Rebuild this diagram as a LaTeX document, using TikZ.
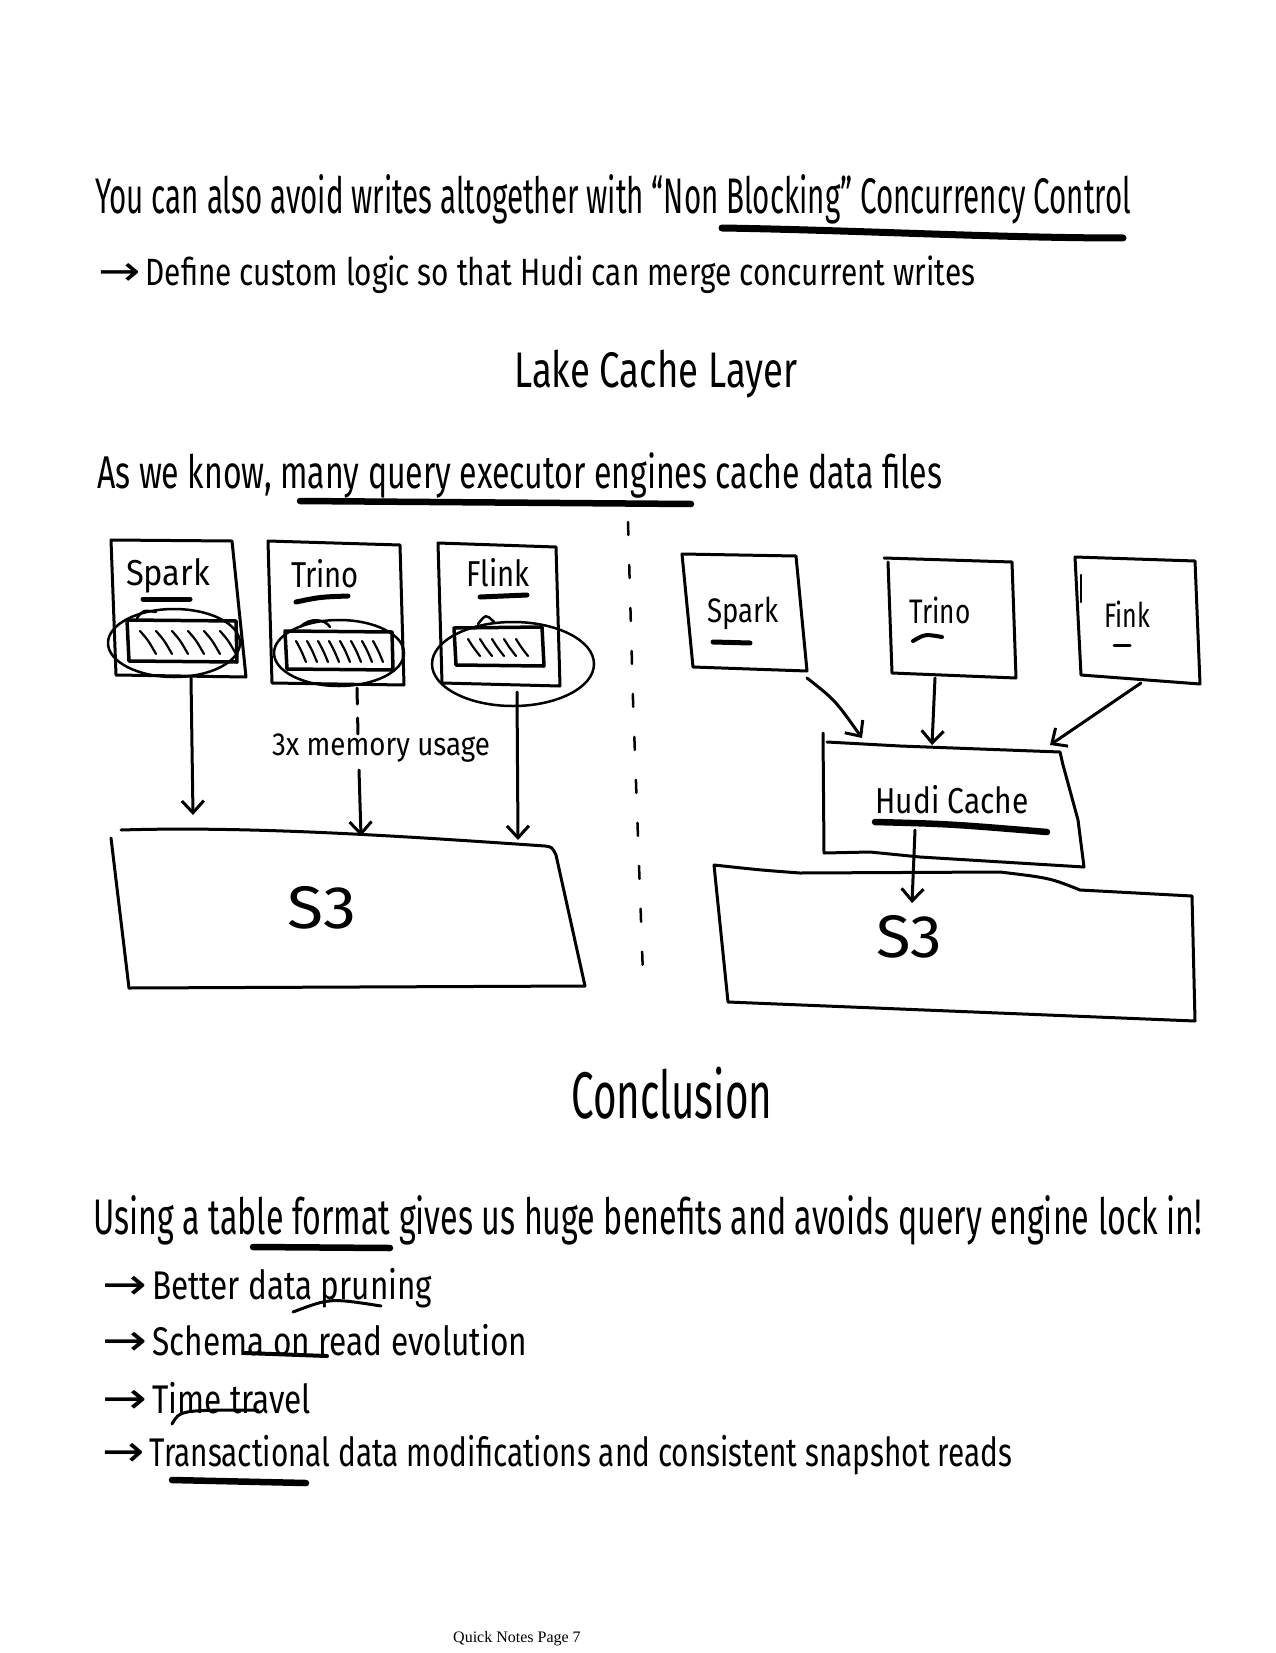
\documentclass[tikz,border=0pt]{standalone}
\usepackage{fontspec}
\usepackage{graphicx}
\setmainfont{Fira Sans}
\newfontfamily\arrfont{DejaVu Sans}
\newfontfamily\tmsfont{Liberation Serif}
\usetikzlibrary{arrows.meta}
\newcommand\hw[2]{\resizebox{#1pt}{\height}{#2}}
\newcommand\ar{{\arrfont\scalebox{1.7}[1.1]{→}\,}}
\begin{document}
\begin{tikzpicture}[x=1pt,y=-1pt,line cap=round,line join=round,
  ink/.style={draw=black,line width=3pt},
  fat/.style={draw=black,line width=6.5pt},
  hand/.style={inner sep=0pt,anchor=base west,text=black},
  word/.style={inner sep=0pt,anchor=center,text=black},
  pen/.style={ink,-{Straight Barb[length=12pt,width=22pt]}}]
\fill[white] (0,0) rectangle (1275,1653);
\useasboundingbox (0,0) rectangle (1275,1653);

% ---------- top text ----------
\node[hand,font=\fontsize{50}{54}\selectfont] (t1) at (95,214) {\hw{1036}{You can also avoid writes altogether with “Non Blocking” Concurrency Control}};
\draw[fat,line width=7pt] (722,228) .. controls (850,230) and (1000,238) .. (1123,238);
\node[hand,font=\fontsize{38}{42}\selectfont] (t2) at (98,285) {\hw{877}{\ar Define custom logic so that Hudi can merge concurrent writes}};
\node[hand,font=\fontsize{50}{54}\selectfont] (h1) at (514,387) {\hw{283}{Lake Cache Layer}};
\node[hand,font=\fontsize{46}{50}\selectfont] (t3) at (97,488) {\hw{845}{As we know, many query executor engines cache data files}};
\draw[fat] (300,501) -- (691,504);

% ---------- left diagram ----------
% Spark
\draw[ink] (111,540) -- (232,541) -- (246,677) -- (116,675) -- cycle;
\node[word,font=\fontsize{36}{40}\selectfont] (lsp) at (168,576) {\hw{84}{Spark}};
\draw[fat,line width=5pt] (143,599) -- (190,599);
\draw[ink,line width=3.5pt] (127,620) -- (236,621) -- (237,662) -- (129,661) -- cycle;
\foreach \i in {0,...,5}
  \draw[ink,line width=2.2pt] (140+16*\i,631) .. controls (148+16*\i,640) .. (156+16*\i,654);
\draw[ink,line width=2.5pt] (174,643) ellipse [x radius=66pt, y radius=34pt];
\draw[ink,line width=2.5pt] (137,618) .. controls (143,610) .. (156,612);
% Trino
\draw[ink] (268,541) -- (400,545) -- (404,685) -- (272,683) -- cycle;
\node[word,font=\fontsize{36}{40}\selectfont] (ltr) at (325,574) {\hw{68}{Trino}};
\draw[fat,line width=5pt] (296,602) .. controls (320,597) .. (348,596);
\draw[ink,line width=3.5pt] (285,631) -- (392,632) -- (393,670) -- (287,669) -- cycle;
\foreach \i in {0,...,7}
  \draw[ink,line width=2.2pt] (296+11*\i,641) .. controls (301+11*\i,650) .. (306+11*\i,662);
\draw[ink,line width=2.5pt] (339,653) ellipse [x radius=65pt, y radius=33pt];
\draw[ink,line width=2.5pt] (300,627) .. controls (310,617) and (325,619) .. (330,627);
% Flink
\draw[ink] (438,543) -- (556,547) -- (560,686) -- (442,683) -- cycle;
\node[word,font=\fontsize{36}{40}\selectfont] (lfl) at (498,573) {\hw{63}{Flink}};
\draw[fat,line width=5pt] (480,597) -- (527,595);
\draw[ink,line width=3.5pt] (454,628) -- (542,627) -- (544,666) -- (456,665) -- cycle;
\foreach \i in {0,...,4}
  \draw[ink,line width=2.2pt] (468+12*\i,639) .. controls (473+12*\i,647) .. (480+12*\i,656);
\draw[ink,line width=2.5pt] (513,664) ellipse [x radius=81pt, y radius=42pt];
\draw[ink,line width=2.5pt] (478,624) .. controls (486,614) .. (494,622);
% arrows to S3
\coordinate (a1s) at (191,678); \coordinate (a1e) at (193,815);
\draw[pen] (a1s) -- (a1e);
\coordinate (a2s) at (357,688); \coordinate (a2m) at (358,735);
\draw[ink,dash pattern=on 16pt off 14pt] (a2s) -- (a2m);
\node[word,font=\fontsize{32}{36}\selectfont] (mem) at (381,748) {\hw{218}{3x memory usage}};
\coordinate (a2t) at (359,770); \coordinate (a2e) at (361,836);
\draw[pen] (a2t) -- (a2e);
\coordinate (a3s) at (517,692); \coordinate (a3e) at (518,840);
\draw[pen] (a3s) -- (a3e);
% S3 left
\draw[ink] (121,830) .. controls (250,826) and (400,836) .. (545,846) .. controls (552,847) .. (556,855) -- (585,986) -- (129,988);
\draw[ink] (111,838) -- (129,988);
\node[word,font=\fontsize{60}{64}\selectfont] (s3l) at (322,908) {\hw{69}{S3}};

% ---------- divider ----------
\draw[ink,line width=2.5pt,dash pattern=on 13pt off 30pt] (628,522) -- (633,700) -- (643,975);

% ---------- right diagram ----------
\draw[ink] (682,554) -- (796,556) -- (807,671) -- (693,667) -- cycle;
\node[word,font=\fontsize{34}{38}\selectfont] (rsp) at (743,613) {\hw{71}{Spark}};
\draw[fat,line width=5pt] (713,642) -- (750,643);
\draw[ink] (884,558) -- (1012,562) -- (1016,678) -- (892,673) -- (888,562);
\node[word,font=\fontsize{34}{38}\selectfont] (rtr) at (940,610) {\hw{61}{Trino}};
\draw[fat,line width=4pt] (913,641) .. controls (925,634) .. (942,637);
\draw[ink] (1075,557) -- (1195,561) -- (1200,684) -- (1081,675) -- cycle;
\draw[ink,line width=2.5pt] (1081,575) -- (1081,602);
\node[word,font=\fontsize{34}{38}\selectfont] (rfl) at (1127,614) {\hw{46}{Fink}};
\draw[ink] (1114,645) -- (1130,645);
% Hudi cache
\draw[ink] (823,733) -- (824,853) -- (870,852) -- (920,857) -- (1084,867) -- (1078,820) -- (1063,765) -- (1060,752) -- (900,746) -- (827,742);
\node[word,font=\fontsize{36}{40}\selectfont] (hudi) at (952,800) {\hw{153}{Hudi Cache}};
\draw[fat] (875,822) .. controls (950,824) .. (1047,832);
% arrows
\coordinate (b1s) at (807,678); \coordinate (b1e) at (862,738);
\draw[pen] (b1s) .. controls (835,700) .. (b1e);
\coordinate (b2s) at (935,678); \coordinate (b2e) at (932,745);
\draw[pen] (b2s) -- (b2e);
\coordinate (b3s) at (1141,683); \coordinate (b3e) at (1050,745);
\draw[pen] (b3s) -- (b3e);
\coordinate (b4s) at (915,830); \coordinate (b4e) at (912,903);
\draw[pen] (b4s) -- (b4e);
% S3 right
\draw[ink] (714,865) .. controls (760,870) .. (800,873) -- (1000,872) .. controls (1050,878) .. (1080,890) -- (1192,896) -- (1195,1021) -- (728,1002) -- cycle;
\node[word,font=\fontsize{60}{64}\selectfont] (s3r) at (909,937) {\hw{66}{S3}};

% ---------- conclusion ----------
\node[hand,font=\fontsize{66}{70}\selectfont] (h2) at (571,1118) {\hw{201}{Conclusion}};
\node[hand,font=\fontsize{50}{54}\selectfont] (t4) at (93,1234) {\hw{1109}{Using a table format gives us huge benefits and avoids query engine lock in!}};
\draw[fat] (253,1247) -- (390,1248);
\node[hand,font=\fontsize{40}{44}\selectfont] (b1) at (102,1299) {\hw{330}{\ar Better data pruning}};
\draw[ink] (293,1312) .. controls (330,1298) .. (381,1306);
\node[hand,font=\fontsize{40}{44}\selectfont] (b2) at (102,1355) {\hw{425}{\ar Schema on read evolution}};
\draw[ink,line width=4pt] (245,1353) -- (327,1356);
\node[hand,font=\fontsize{40}{44}\selectfont] (b3) at (102,1413) {\hw{209}{\ar Time travel}};
\draw[ink] (172,1424) .. controls (180,1410) .. (258,1410);
\node[hand,font=\fontsize{40}{44}\selectfont] (b4) at (102,1466) {\hw{910}{\ar Transactional data modifications and consistent snapshot reads}};
\draw[fat] (172,1480) -- (306,1483);

% ---------- footer ----------
\node[hand,font=\tmsfont\fontsize{16}{18}\selectfont] (foot) at (453,1642) {Quick Notes Page 7};
\end{tikzpicture}
\end{document}
